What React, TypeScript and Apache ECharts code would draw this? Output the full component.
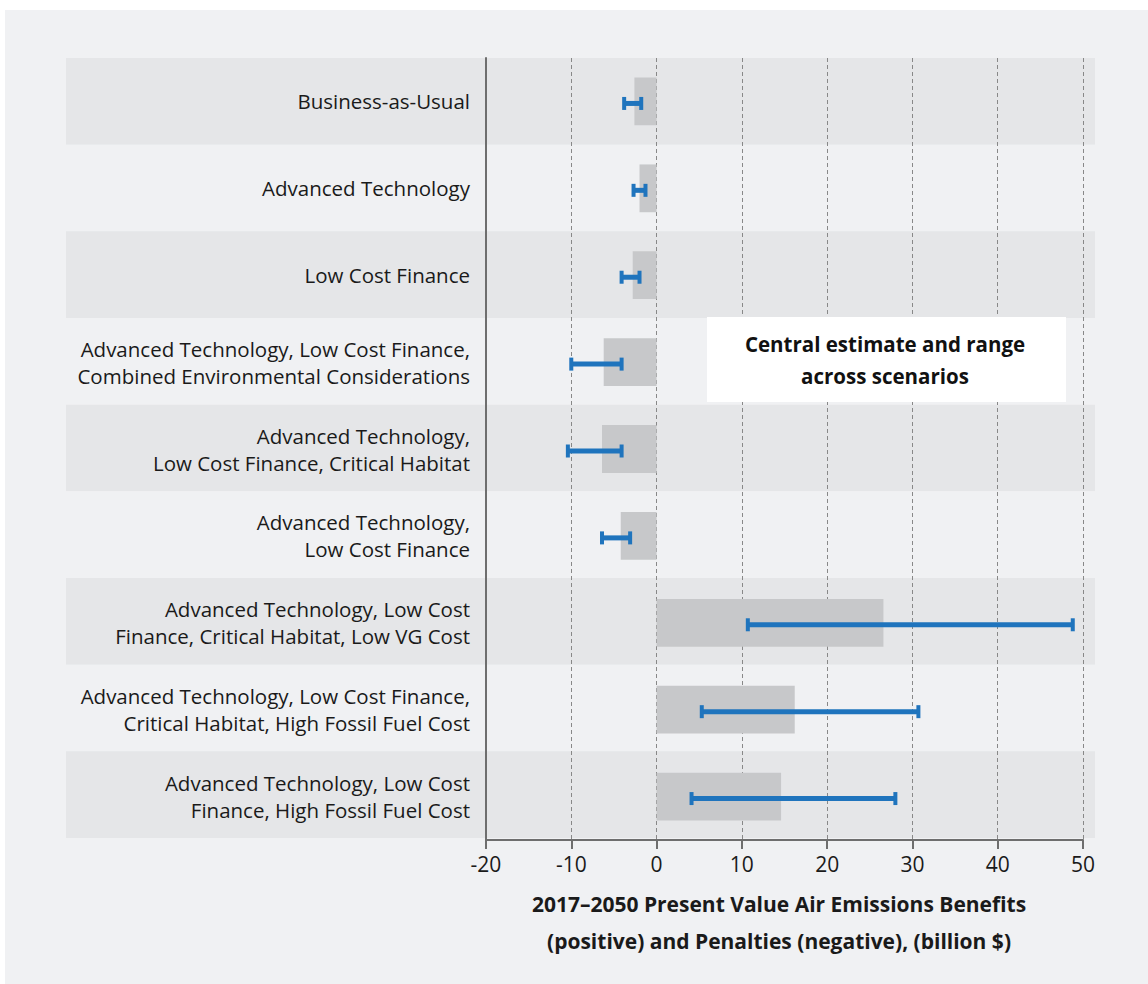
import React, { useEffect, useRef } from "react";
import * as echarts from "echarts";

const categories = [
  "Business-as-Usual",
  "Advanced Technology",
  "Low Cost Finance",
  "Advanced Technology, Low Cost Finance,\nCombined Environmental Considerations",
  "Advanced Technology,\nLow Cost Finance, Critical Habitat",
  "Advanced Technology,\nLow Cost Finance",
  "Advanced Technology, Low Cost\nFinance, Critical Habitat, Low VG Cost",
  "Advanced Technology, Low Cost Finance,\nCritical Habitat, High Fossil Fuel Cost",
  "Advanced Technology, Low Cost\nFinance, High Fossil Fuel Cost",
];

const centralEstimate = [-2.6, -2.0, -2.8, -6.2, -6.4, -4.2, 26.6, 16.2, 14.6];
const rangeLow = [-3.8, -2.7, -4.1, -10.0, -10.4, -6.4, 10.7, 5.3, 4.1];
const rangeHigh = [-1.8, -1.3, -2.0, -4.1, -4.1, -3.1, 48.8, 30.7, 28.0];

const xTicks = { min: -20, max: 50, interval: 10 };

const FONT = "Open Sans";

export default function App() {
  const ref = useRef<HTMLDivElement>(null);

  useEffect(() => {
    document.body.style.margin = "0";
    if (!ref.current) return;
    const chart = echarts.init(ref.current, null, { renderer: "svg" });

    const rangeData = categories.map((_, i) => [i, rangeLow[i], rangeHigh[i]]);

    const option: any = {
      animation: false,
      backgroundColor: "transparent",
      textStyle: { fontFamily: FONT },
      grid: [
        { left: 66, width: 1029, top: 58, height: 780, containLabel: false },
        { left: 486, width: 597, top: 58, height: 782, containLabel: false },
      ],
      xAxis: [
        { gridIndex: 0, type: "value", min: 0, max: 1, show: false },
        {
          gridIndex: 1,
          type: "value",
          min: xTicks.min,
          max: xTicks.max,
          interval: xTicks.interval,
          axisLine: { show: true, onZero: false, lineStyle: { color: "#6e6e6e", width: 2 } },
          axisTick: { show: true, length: 9, lineStyle: { color: "#6e6e6e", width: 2 } },
          axisLabel: { fontSize: 21, color: "#1a1a1a", margin: 13, fontFamily: FONT },
          splitLine: { show: true, lineStyle: { color: "#888888", width: 1, type: [4, 3] } },
        },
      ],
      yAxis: [
        {
          gridIndex: 0,
          type: "category",
          data: categories,
          inverse: true,
          axisLine: { show: false },
          axisTick: { show: false },
          axisLabel: { show: false },
          splitLine: { show: false },
          splitArea: { show: true, areaStyle: { color: ["#e5e6e8", "#f0f1f3"] } },
        },
        {
          gridIndex: 1,
          type: "category",
          data: categories,
          inverse: true,
          axisLine: { show: true, onZero: false, lineStyle: { color: "#6e6e6e", width: 2 } },
          axisTick: { show: false },
          axisLabel: {
            fontSize: 20.5,
            color: "#1a1a1a",
            lineHeight: 27,
            margin: 16,
            align: "right",
            fontFamily: FONT,
          },
          splitLine: { show: false },
        },
      ],
      title: {
        text: "2017–2050 Present Value Air Emissions Benefits\n(positive) and Penalties (negative), (billion $)",
        left: 774,
        top: 880,
        textAlign: "center",
        textStyle: {
          fontFamily: FONT,
          fontSize: 21,
          fontWeight: "bold",
          color: "#1a1a1a",
          lineHeight: 37,
          align: "center",
        },
      },
      graphic: [
        {
          type: "rect",
          z: 100,
          shape: { x: 707, y: 317, width: 359, height: 85 },
          style: { fill: "#ffffff" },
        },
        {
          type: "text",
          z: 101,
          x: 885,
          y: 360,
          style: {
            text: "Central estimate and range\nacross scenarios",
            fontFamily: FONT,
            fontSize: 20.5,
            fontWeight: "bold",
            fill: "#111111",
            align: "center",
            verticalAlign: "middle",
            lineHeight: 32,
          },
        },
      ],
      series: [
        {
          name: "Central estimate",
          type: "bar",
          xAxisIndex: 1,
          yAxisIndex: 1,
          data: centralEstimate,
          barWidth: "55%",
          itemStyle: { color: "#c7c8ca" },
          z: 2,
        },
        {
          name: "Range",
          type: "custom",
          xAxisIndex: 1,
          yAxisIndex: 1,
          data: rangeData,
          z: 3,
          renderItem: (params: any, api: any) => {
            const cat = api.value(0);
            const lo = api.coord([api.value(1), cat]);
            const hi = api.coord([api.value(2), cat]);
            const y = lo[1] + 2;
            const capH = 13;
            const capW = 4;
            const color = "#1f74bd";
            return {
              type: "group",
              children: [
                {
                  type: "line",
                  shape: { x1: lo[0], y1: y, x2: hi[0], y2: y },
                  style: { stroke: color, lineWidth: 5 },
                },
                {
                  type: "rect",
                  shape: { x: lo[0] - capW / 2, y: y - capH / 2, width: capW, height: capH },
                  style: { fill: color },
                },
                {
                  type: "rect",
                  shape: { x: hi[0] - capW / 2, y: y - capH / 2, width: capW, height: capH },
                  style: { fill: color },
                },
              ],
            };
          },
        },
      ],
    };

    chart.setOption(option);
    return () => chart.dispose();
  }, []);

  return (
    <div style={{ position: "fixed", left: 0, top: 0, width: 1148, height: 984, background: "#ffffff" }}>
      <div style={{ position: "absolute", left: 5, top: 10, right: 0, bottom: 0, background: "#f0f1f3" }} />
      <div ref={ref} style={{ position: "absolute", left: 0, top: 0, width: 1148, height: 984 }} />
    </div>
  );
}
